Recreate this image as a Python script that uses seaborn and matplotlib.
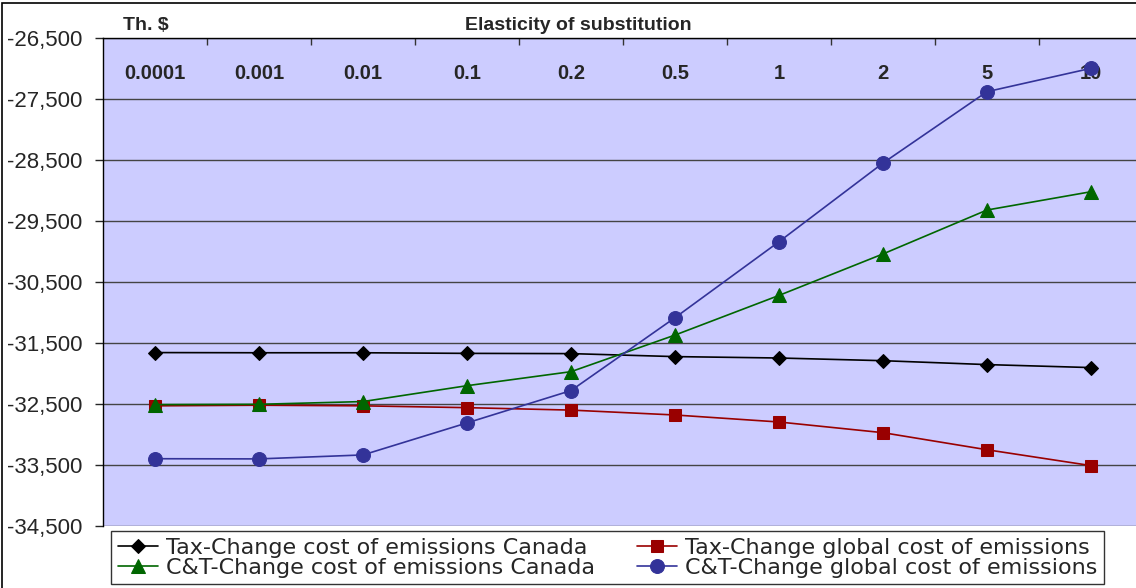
import numpy as np
import pandas as pd
import matplotlib
matplotlib.use('Agg')
import matplotlib.pyplot as plt
import seaborn as sns
from matplotlib.patches import Rectangle
from matplotlib.ticker import FuncFormatter, FixedLocator

elasticity = ['0.0001', '0.001', '0.01', '0.1', '0.2', '0.5', '1', '2', '5', '10']

tax_canada = [-31657, -31660, -31660, -31670, -31674, -31723, -31746, -31790, -31854, -31903]
tax_global = [-32530, -32520, -32530, -32560, -32600, -32680, -32795, -32970, -33250, -33510]
ct_canada = [-32510, -32505, -32460, -32200, -31970, -31370, -30720, -30040, -29320, -29020]
ct_global = [-33397, -33400, -33335, -32810, -32280, -31085, -29840, -28550, -27380, -26997]

series_names = ['Tax-Change cost of emissions Canada', 'Tax-Change global cost of emissions',
                'C&T-Change cost of emissions Canada', 'C&T-Change global cost of emissions']

sns.set_style('white')
plt.rcParams['font.family'] = ['Liberation Sans', 'DejaVu Sans']

fig = plt.figure(figsize=(11.36, 5.88), dpi=100)
ax = fig.add_axes([103/1136, 1 - 526/588, 1040/1136, 488/588])
ax.set_facecolor('#CCCCFF')

styles = [
    (tax_canada, 'black', 'D', 7.5),
    (tax_global, '#990000', 's', 9),
    (ct_canada, '#006600', '^', 10),
    (ct_global, '#333399', 'o', 10),
]
for name, (vals, col, mk, ms) in zip(series_names, styles):
    df = pd.DataFrame({'x': elasticity, 'y': vals})
    sns.lineplot(data=df, x='x', y='y', ax=ax, color=col, marker=mk, markersize=ms,
                 markeredgecolor=col, linewidth=1.2, label=name, sort=False)

ax.set_xlim(-0.5, 9.5)
ax.set_ylim(-34500, -26500)
ax.set_yticks(np.arange(-34500, -26499, 1000))
ax.yaxis.set_major_formatter(FuncFormatter(lambda v, p: f'{int(v):,}'))
ax.grid(axis='y', color='#444444', linewidth=1.0)
ax.tick_params(axis='y', direction='out', length=6, width=1, labelsize=16, left=True, pad=9)

# category labels sit inside the plot, under the top axis
ax.xaxis.set_ticks_position('top')
ax.set_xticks(range(len(elasticity)))
ax.set_xticklabels(elasticity, fontweight='bold', fontsize=14.5)
ax.tick_params(axis='x', which='major', length=0, pad=-32.5)
ax.xaxis.set_minor_locator(FixedLocator(np.arange(0.5, 9.5, 1)))
ax.tick_params(axis='x', which='minor', direction='in', length=5, width=1, color='#333333', top=True)

ax.set_xlabel('')
ax.set_ylabel('')
for s in ['bottom', 'right']:
    ax.spines[s].set_visible(False)
for s in ['left', 'top']:
    ax.spines[s].set_color('black')
    ax.spines[s].set_linewidth(1)

handles, labels = ax.get_legend_handles_labels()
ax.get_legend().remove()
order = [0, 2, 1, 3]  # row-wise like the original
leg = fig.legend([handles[i] for i in order], [labels[i] for i in order], ncol=2,
                 loc='upper left', bbox_to_anchor=(111/1136, 1 - 531/588), borderaxespad=0,
                 frameon=True, fancybox=False, edgecolor='black', borderpad=0.3,
                 handlelength=1.8, handletextpad=0.36, columnspacing=1.9, labelspacing=0.0,
                 prop={'family': 'DejaVu Sans', 'size': 16})
leg.get_frame().set_linewidth(1)

fig.text(578/1136, 1 - 30/588, 'Elasticity of substitution', ha='center', va='baseline',
         fontweight='bold', fontsize=14)
fig.text(123/1136, 1 - 30/588, 'Th. $', ha='left', va='baseline', fontweight='bold', fontsize=14)

fig.patches.append(Rectangle((2/1136, -0.1), 1.2, 1 - 3/588 + 0.1, transform=fig.transFigure,
                             fill=False, edgecolor='black', linewidth=1.2))

fig.savefig('out.png', dpi=100)
